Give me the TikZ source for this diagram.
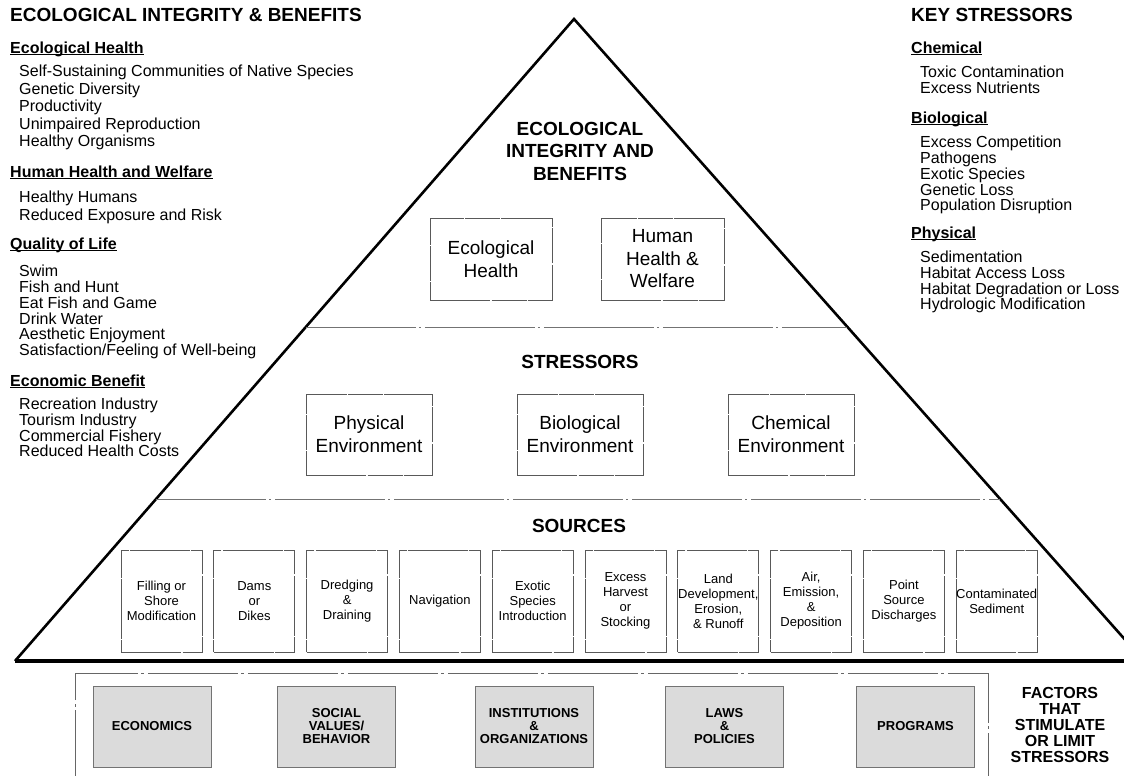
\documentclass[tikz,border=0pt]{standalone}
\usepackage{fontspec}
\setmainfont{Liberation Sans}
\usetikzlibrary{calc}

% underline sitting just under the baseline
\newcommand{\headline}[1]{\underline{\smash{#1}}}

\begin{document}
\begin{tikzpicture}[x=1pt,y=-1pt]
	\tikzset{
	    heading/.style={anchor=base west, inner sep=0pt, font=\fontsize{19}{22}\selectfont\bfseries},
	    subhead/.style={anchor=base west, inner sep=0pt, font=\fontsize{16}{18}\selectfont\bfseries},
	    itemlist/.style={anchor=north west, inner sep=0pt, align=left},
	    levelname/.style={inner sep=0pt, align=center, font=\fontsize{19}{22.5}\selectfont\bfseries},
	    broken/.style={dash pattern=on 60pt off 1.5pt on 35pt off 1pt},
	    envbox/.style={draw=black!65, line width=0.7pt, broken, minimum width=126pt, minimum height=81pt, inner sep=0pt, align=center, font=\fontsize{19}{23}\selectfont},
	    srcbox/.style={draw=black!65, line width=0.7pt, broken, minimum width=81pt, minimum height=102pt, inner sep=0pt, align=center, font=\fontsize{13}{15}\selectfont},
	    factorbox/.style={draw=black!55, fill=black!14, minimum width=118pt, minimum height=81pt, inner sep=0pt, align=center, font=\fontsize{13}{13}\selectfont\bfseries},
	    divider/.style={draw=black!55, line width=0.8pt, dash pattern=on 110pt off 3pt on 2pt off 4pt}}
	\useasboundingbox (0,0) rectangle (1124,776);
	\begin{scope}
	\clip (0,0) rectangle (1124,776);
	\coordinate (apex) at (574,19);
	\coordinate (bl) at (15,661);
	\coordinate (br) at (1144,661); % corner runs off the page
	\draw[line width=2.6pt, line join=miter] (bl) -- (apex) -- (br);
	\draw[line width=3.6pt] (bl) -- (br);
	% level dividers inside the pyramid
	\draw[divider] ($(apex)!{308/642}!(bl)$) -- ($(apex)!{308/642}!(br)$);
	\draw[divider] ($(apex)!{480/642}!(bl)$) -- ($(apex)!{480/642}!(br)$);
	% frame round the factors
	\draw[black!60, line width=0.8pt, dash pattern=on 90pt off 3pt on 3pt off 4pt] (75,800) -- (75,673) -- (988,673) -- (988,800);
	\end{scope}

	% left column
	\node[heading] (ebtitle) at (10,22) {ECOLOGICAL INTEGRITY \& BENEFITS};
	\node[subhead] (ehhead) at (10,53) {\headline{Ecological Health}};
	\node[itemlist, font=\fontsize{16}{17.5}\selectfont] (ehlist) at (19,65) {Self-Sustaining Communities of Native Species\\Genetic Diversity\\Productivity\\Unimpaired Reproduction\\Healthy Organisms};
	\node[subhead] (hhhead) at (10,177) {\headline{Human Health and Welfare}};
	\node[itemlist, font=\fontsize{16}{18}\selectfont] (hhlist) at (19,191) {Healthy Humans\\Reduced Exposure and Risk};
	\node[subhead] (qlhead) at (10,249) {\headline{Quality of Life}};
	\node[itemlist, font=\fontsize{16}{15.8}\selectfont] (qllist) at (19,265) {Swim\\Fish and Hunt\\Eat Fish and Game\\Drink Water\\Aesthetic Enjoyment\\Satisfaction/Feeling of Well-being};
	\node[subhead] (ecbhead) at (10,386) {\headline{Economic Benefit}};
	\node[itemlist, font=\fontsize{16}{15.7}\selectfont] (ecblist) at (19,398) {Recreation Industry\\Tourism Industry\\Commercial Fishery\\Reduced Health Costs};

	% right column
	\node[heading] (kstitle) at (911,22) {KEY STRESSORS};
	\node[subhead] (chhead) at (911,53) {\headline{Chemical}};
	\node[itemlist, font=\fontsize{16}{15.5}\selectfont] (chlist) at (920,66) {Toxic Contamination\\Excess Nutrients};
	\node[subhead] (bihead) at (911,123) {\headline{Biological}};
	\node[itemlist, font=\fontsize{16}{15.75}\selectfont] (bilist) at (920,136) {Excess Competition\\Pathogens\\Exotic Species\\Genetic Loss\\Population Disruption};
	\node[subhead] (phhead) at (911,238) {\headline{Physical}};
	\node[itemlist, font=\fontsize{16}{15.7}\selectfont] (phlist) at (920,251) {Sedimentation\\Habitat Access Loss\\Habitat Degradation or Loss\\Hydrologic Modification};

	% top level
	\node[levelname] (eititle) at (580,151) {ECOLOGICAL\\INTEGRITY AND\\BENEFITS};
	\node[envbox, minimum width=122pt, minimum height=82pt, font=\fontsize{19}{22.5}\selectfont] (eco) at (491,259) {Ecological\\Health};
	\node[envbox, minimum width=123pt, minimum height=82pt, font=\fontsize{19}{22.5}\selectfont] (human) at (662.5,259) {Human\\Health \&\\Welfare};

	% middle level
	\node[levelname] (strtitle) at (580,362) {STRESSORS};
	\node[envbox] (phys) at (369,434.5) {Physical\\Environment};
	\node[envbox] (bio) at (580,434.5) {Biological\\Environment};
	\node[envbox] (chem) at (791,434.5) {Chemical\\Environment};

	% bottom level
	\node[levelname] (srctitle) at (579,526) {SOURCES};
	\node[srcbox] (src1) at (161.5,601) {Filling or\\Shore\\Modification};
	\node[srcbox] (src2) at (254.3,601) {Dams\\or\\Dikes};
	\node[srcbox] (src3) at (347.1,601) {Dredging\\\&\\Draining};
	\node[srcbox] (src4) at (439.9,601) {Navigation};
	\node[srcbox] (src5) at (532.7,601) {Exotic\\Species\\Introduction};
	\node[srcbox] (src6) at (625.5,601) {Excess\\Harvest\\or\\Stocking};
	\node[srcbox] (src7) at (718.3,601) {Land\\Development,\\Erosion,\\\& Runoff};
	\node[srcbox] (src8) at (811.1,601) {Air,\\Emission,\\\&\\Deposition};
	\node[srcbox] (src9) at (903.9,601) {Point\\Source\\Discharges};
	\node[srcbox] (src10) at (996.7,601) {Contaminated\\Sediment};

	% factors below the pyramid
	\node[factorbox] (econ) at (152,726.5) {ECONOMICS};
	\node[factorbox] (social) at (336.5,726.5) {SOCIAL\\VALUES/\\BEHAVIOR};
	\node[factorbox] (inst) at (534,726.5) {INSTITUTIONS\\\&\\ORGANIZATIONS};
	\node[factorbox] (laws) at (724.5,726.5) {LAWS\\\&\\POLICIES};
	\node[factorbox] (progs) at (915.5,726.5) {PROGRAMS};
	\node[align=center, inner sep=0pt, font=\fontsize{16}{16}\selectfont\bfseries] (factors) at (1060,725) {FACTORS\\THAT\\STIMULATE\\OR LIMIT\\STRESSORS};
\end{tikzpicture}
\end{document}
